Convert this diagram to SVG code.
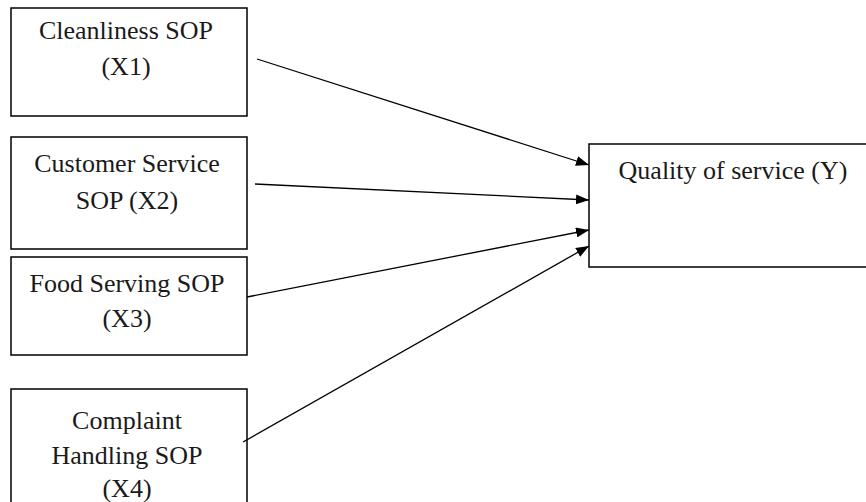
<svg xmlns="http://www.w3.org/2000/svg" width="866" height="502" viewBox="0 0 866 502">
<defs>
<style>
.box{fill:#fff;stroke:#000;stroke-width:1.5}
.t{font-family:"Liberation Serif","Times New Roman",serif;font-size:26px;fill:#1a1a1a;text-anchor:middle}
.c{stroke:#000;stroke-width:1.3;fill:none;marker-end:url(#ah)}
</style>
<marker id="ah" viewBox="0 0 13 10" refX="13" refY="5" markerWidth="13" markerHeight="10" markerUnits="userSpaceOnUse" orient="auto">
<path d="M0,0 L13,5 L0,10 Z" fill="#000"/>
</marker>
</defs>
<rect width="866" height="502" fill="#fff"/>
<g id="x1">
<rect class="box" x="11" y="8" width="236" height="108"/>
<text class="t" x="126" y="39">Cleanliness SOP</text>
<text class="t" x="126" y="75">(X1)</text>
</g>
<g id="x2">
<rect class="box" x="11" y="137" width="236" height="112"/>
<text class="t" x="127" y="172">Customer Service</text>
<text class="t" x="127" y="209">SOP (X2)</text>
</g>
<g id="x3">
<rect class="box" x="11" y="257" width="236" height="98"/>
<text class="t" x="127" y="292">Food Serving SOP</text>
<text class="t" x="127" y="327">(X3)</text>
</g>
<g id="x4">
<rect class="box" x="11" y="389" width="236" height="130"/>
<text class="t" x="127" y="429">Complaint</text>
<text class="t" x="127" y="464">Handling SOP</text>
<text class="t" x="127" y="497">(X4)</text>
</g>
<g id="y">
<rect class="box" x="589" y="144" width="290" height="123"/>
<text class="t" x="733" y="179">Quality of service (Y)</text>
</g>
<g id="connectors">
<line class="c" x1="257" y1="59" x2="589" y2="165"/>
<line class="c" x1="255" y1="184" x2="589" y2="200"/>
<line class="c" x1="247" y1="297" x2="589" y2="230"/>
<line class="c" x1="243" y1="442" x2="589" y2="246"/>
</g>
</svg>
